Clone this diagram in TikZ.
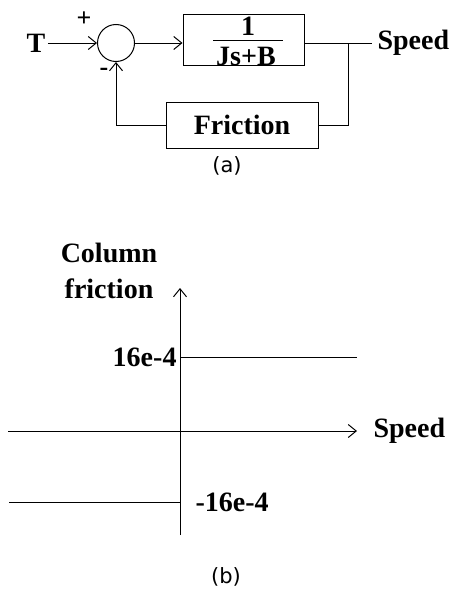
\documentclass[tikz,border=0pt]{standalone}
\usepackage{fontspec}
\setmainfont{Liberation Serif}
\newfontfamily\capfont{DejaVu Sans}
\usetikzlibrary{arrows.meta}
\begin{document}
\begin{tikzpicture}[x=1pt,y=-1pt, line width=1pt,
 arr/.style={-{Straight Barb[length=8pt,width=13pt]}},
 lbl/.style={font=\fontsize{28}{30}\selectfont\bfseries, inner sep=0pt},
 sgn/.style={font=\fontsize{26}{28}\selectfont\bfseries, inner sep=0pt},
 blk/.style={draw, rectangle, inner sep=0pt},
 captxt/.style={font=\capfont\fontsize{21}{23}\selectfont, inner sep=0pt}]
\useasboundingbox (0,0) rectangle (453,589);
% ---------- (a) ----------
\node[lbl] (T) at (36,43) {T};
\node[draw, circle, minimum size=37pt, inner sep=0pt] (sum) at (116,43) {};
\node[blk, minimum width=121pt, minimum height=51pt] (G) at (243.5,39.5) {};
\node[lbl] (num) at (248,26) {1};
\node[lbl] (den) at (246,56) {Js+B};
\coordinate (fl) at (213,40);
\coordinate (fr) at (283,40);
\draw (fl) -- (fr);
\node[blk, minimum width=152pt, minimum height=46pt, lbl] (F) at (242,125) {Friction};
\node[lbl, anchor=west] (Sp) at (377,43) {Speed};
\coordinate (br) at (348,43);
\coordinate (so) at (372,43);
\node[sgn] (plus) at (84,19) {+};
\node[sgn] (minus) at (104,72) {-};
\draw[arr] ([xshift=2pt]T.east) -- (sum.west);
\draw[arr] (sum.east) -- (G.west |- sum.east);
\draw (G.east |- br) -- (so);
\draw (br) |- (F.east);
\draw[arr] (F.west) -| (sum.south);
\node[captxt] (capa) at (227,166) {(a)};
% ---------- (b) ----------
\node[lbl] (col) at (109,253) {Column};
\node[lbl] (fri) at (109,289) {friction};
\coordinate (yb) at (180,535);
\coordinate (yt) at (180,288);
\draw[arr] (yb) -- (yt);
\coordinate (xl) at (8,431);
\coordinate (xr) at (357,431);
\draw[arr] (xl) -- (xr);
\node[lbl, anchor=west] (Sp2) at (373,431) {Speed};
\coordinate (u0) at (180,357);
\coordinate (u1) at (357,357);
\draw (u0) -- (u1);
\coordinate (l0) at (9,502);
\coordinate (l1) at (180,502);
\draw (l0) -- (l1);
\node[lbl, anchor=east] (pos) at (177,357) {16e-4};
\node[lbl, anchor=west] (neg) at (195,502) {-16e-4};
\node[captxt] (capb) at (226,577) {(b)};
\end{tikzpicture}
\end{document}
